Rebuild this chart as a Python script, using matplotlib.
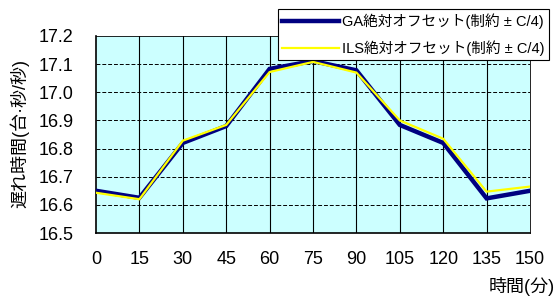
import matplotlib
matplotlib.use("Agg")
import matplotlib.pyplot as plt

plt.rcParams['font.family'] = ['Liberation Sans', 'Noto Sans CJK JP', 'DejaVu Sans']

times = [0, 15, 30, 45, 60, 75, 90, 105, 120, 135, 150]
ga = [16.650, 16.625, 16.820, 16.880, 17.083, 17.111, 17.078, 16.884, 16.820, 16.623, 16.650]
ils = [16.643, 16.620, 16.828, 16.884, 17.072, 17.108, 17.070, 16.900, 16.835, 16.647, 16.665]
yticks = [16.5, 16.6, 16.7, 16.8, 16.9, 17.0, 17.1, 17.2]
ga_label = "GA絶対オフセット(制約 ± C/4)"
ils_label = "ILS絶対オフセット(制約 ± C/4)"
ylabel = "遅れ時間(台·秒/秒)"
xlabel = "時間(分)"

fig = plt.figure(figsize=(5.58, 2.99), dpi=100)
ax = fig.add_axes([96/558, 1-233/299, (530-96)/558, (233-36)/299])
ax.set_facecolor('#CCFFFF')

ax.plot(times, ga, color='#000080', lw=3.2, label=ga_label, zorder=3, solid_joinstyle='miter')
ax.plot(times, ils, color='#FFFF00', lw=1.6, label=ils_label, zorder=4, solid_joinstyle='miter')

ax.set_xlim(0, 150)
ax.set_ylim(16.5, 17.2)
ax.set_xticks(times)
ax.set_yticks(yticks)
ax.set_yticklabels([f"{v:.1f}" for v in yticks])
ax.tick_params(axis='both', length=0, labelsize=13)
ax.tick_params(axis='y', pad=16)
ax.tick_params(axis='x', pad=13)

for t in times[1:-1]:
    ax.axvline(t, color='black', lw=0.8, zorder=1)
for v in yticks[1:-1]:
    ax.axhline(v, color='black', lw=0.7, ls=(0, (4, 2)), zorder=1)

for s in ['left', 'bottom']:
    ax.spines[s].set_linewidth(1.2)
for s in ['top', 'right']:
    ax.spines[s].set_linewidth(0.6)

fig.text(20/558, 1-134/299, ylabel, rotation=90, ha='center', va='center', fontsize=13)
fig.text(555/558, 1-287/299, xlabel, ha='right', va='center', fontsize=13)

leg = ax.legend(loc='upper left', bbox_to_anchor=(278/558, 1-9/299), bbox_transform=fig.transFigure,
                frameon=True, fancybox=False, fontsize=10.5, handlelength=3.9, handletextpad=0.2,
                borderpad=0.3, labelspacing=0.75, borderaxespad=0)
leg.get_frame().set_edgecolor('black')
leg.get_frame().set_linewidth(0.8)
leg.get_frame().set_facecolor('white')
leg.get_frame().set_alpha(1)
leg.set_zorder(10)

fig.savefig('out.png', dpi=100)
